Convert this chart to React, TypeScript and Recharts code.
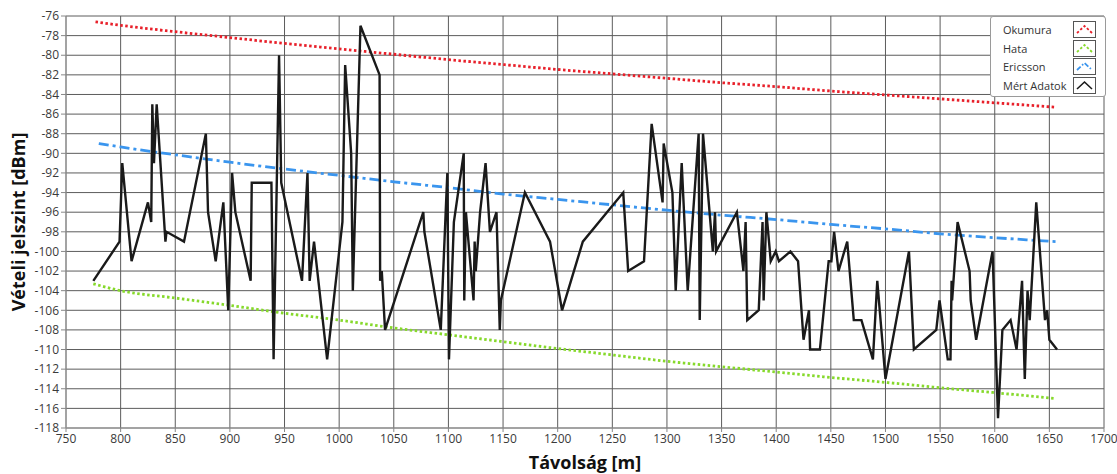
import React from 'react';
import { LineChart, Line, XAxis, YAxis, CartesianGrid, Legend } from 'recharts';

// Measured data (Mért Adatok)
const measuredDistance = [
  775, 799, 801.5, 810, 825, 828, 829, 830.5, 833, 841, 842, 858, 878, 880, 887, 894, 898.5, 902, 905, 919,
  920, 938, 940, 945, 947, 966, 971, 973, 977, 989, 1003, 1005.5, 1011, 1012.5, 1019.5, 1037, 1037.5, 1039, 1042, 1077,
  1078, 1093, 1099, 1100.5, 1105, 1114, 1114.5, 1116, 1123, 1124, 1125, 1129, 1134, 1138, 1144, 1147, 1148, 1170, 1193, 1204,
  1223, 1260, 1264.5, 1279, 1286, 1296, 1297, 1305, 1308, 1313.5, 1319, 1329, 1330, 1333, 1342, 1344, 1345, 1364, 1370, 1372,
  1373.5, 1384, 1387.5, 1388.5, 1391, 1395, 1399.5, 1402.5, 1413, 1420, 1425, 1430, 1431, 1440, 1448, 1450.5, 1453, 1457, 1465, 1471,
  1478, 1488.5, 1492.5, 1500, 1521.5, 1526, 1546.5, 1549.5, 1557, 1559.5, 1560.5, 1561, 1566, 1577, 1578, 1583, 1598, 1603, 1607, 1614.5,
  1620, 1625, 1627.5, 1630, 1632, 1638, 1646, 1648, 1650, 1657,
];
const measuredLevel = [
  -103, -99, -91, -101, -95, -97, -85, -91, -85, -99, -98, -99, -88, -96, -101, -95, -106, -92, -96, -103,
  -93, -93, -111, -80, -93, -103, -92, -103, -99, -111, -97, -81, -90, -104, -77, -82, -103, -102, -108, -96,
  -98, -108, -92, -111, -97, -90, -105, -96, -105, -99, -102, -96, -91, -98, -96, -108, -105, -94, -99, -106,
  -99, -94, -102, -101, -87, -95, -89, -94, -104, -91, -104, -88, -107, -88, -100, -96, -100, -96, -102, -97,
  -107, -106, -97, -105, -96, -101, -100, -101, -100, -101, -109, -106, -110, -110, -101, -101, -98, -102, -99, -107,
  -107, -111, -103, -113, -100, -110, -108, -105, -111, -111, -103, -105, -97, -102, -105, -109, -100, -117, -108, -107,
  -110, -103, -113, -104, -107, -95, -107, -106, -109, -110,
];

// Model curves (read at sample distances)
const okumuraDistance = [777, 800, 850, 900, 950, 1000, 1050, 1100, 1150, 1200, 1250, 1300, 1350, 1400, 1450, 1500, 1550, 1600, 1656];
const okumuraLevel = [-76.6, -76.95, -77.6, -78.2, -78.8, -79.35, -79.9, -80.45, -80.95, -81.45, -81.9, -82.35, -82.8, -83.2, -83.65, -84.05, -84.45, -84.85, -85.3];

const hataDistance = [775, 800, 850, 900, 950, 1000, 1050, 1100, 1150, 1200, 1250, 1300, 1350, 1400, 1450, 1500, 1550, 1600, 1656];
const hataLevel = [-103.3, -104.0, -104.75, -105.5, -106.3, -107.0, -107.8, -108.5, -109.2, -109.9, -110.55, -111.2, -111.75, -112.3, -112.85, -113.35, -113.9, -114.4, -115.0];

const ericssonDistance = [780, 800, 850, 900, 950, 1000, 1050, 1100, 1150, 1200, 1250, 1300, 1350, 1400, 1450, 1500, 1550, 1600, 1656];
const ericssonLevel = [-89.0, -89.35, -90.15, -90.9, -91.6, -92.25, -92.9, -93.5, -94.15, -94.7, -95.25, -95.8, -96.3, -96.75, -97.25, -97.7, -98.2, -98.6, -99.0];

// Axis ticks
const xTicks = [750, 800, 850, 900, 950, 1000, 1050, 1100, 1150, 1200, 1250, 1300, 1350, 1400, 1450, 1500, 1550, 1600, 1650, 1700];
const yTicks = [-118, -116, -114, -112, -110, -108, -106, -104, -102, -100, -98, -96, -94, -92, -90, -88, -86, -84, -82, -80, -78, -76];
const xMinorTicks = [
  750, 760, 770, 780, 790, 800, 810, 820, 830, 840, 850, 860, 870, 880, 890, 900, 910, 920, 930, 940, 950, 960, 970, 980, 990,
  1000, 1010, 1020, 1030, 1040, 1050, 1060, 1070, 1080, 1090, 1100, 1110, 1120, 1130, 1140, 1150, 1160, 1170, 1180, 1190,
  1200, 1210, 1220, 1230, 1240, 1250, 1260, 1270, 1280, 1290, 1300, 1310, 1320, 1330, 1340, 1350, 1360, 1370, 1380, 1390,
  1400, 1410, 1420, 1430, 1440, 1450, 1460, 1470, 1480, 1490, 1500, 1510, 1520, 1530, 1540, 1550, 1560, 1570, 1580, 1590,
  1600, 1610, 1620, 1630, 1640, 1650, 1660, 1670, 1680, 1690, 1700,
];
const yMinorTicks = [
  -118, -117.6, -117.2, -116.8, -116.4, -116, -115.6, -115.2, -114.8, -114.4, -114, -113.6, -113.2, -112.8, -112.4,
  -112, -111.6, -111.2, -110.8, -110.4, -110, -109.6, -109.2, -108.8, -108.4, -108, -107.6, -107.2, -106.8, -106.4,
  -106, -105.6, -105.2, -104.8, -104.4, -104, -103.6, -103.2, -102.8, -102.4, -102, -101.6, -101.2, -100.8, -100.4,
  -100, -99.6, -99.2, -98.8, -98.4, -98, -97.6, -97.2, -96.8, -96.4, -96, -95.6, -95.2, -94.8, -94.4,
  -94, -93.6, -93.2, -92.8, -92.4, -92, -91.6, -91.2, -90.8, -90.4, -90, -89.6, -89.2, -88.8, -88.4,
  -88, -87.6, -87.2, -86.8, -86.4, -86, -85.6, -85.2, -84.8, -84.4, -84, -83.6, -83.2, -82.8, -82.4,
  -82, -81.6, -81.2, -80.8, -80.4, -80, -79.6, -79.2, -78.8, -78.4, -78, -77.6, -77.2, -76.8, -76.4, -76,
];

const seriesNames = ['Okumura', 'Hata', 'Ericsson', 'Mért Adatok'];
const seriesColors = ['#e8202a', '#86d92b', '#3a95ee', '#1a1a1a'];

const toPoints = (xs: number[], ys: number[]) => xs.map((x, i) => ({ x, y: ys[i] }));
const measuredData = toPoints(measuredDistance, measuredLevel);
const okumuraData = toPoints(okumuraDistance, okumuraLevel);
const hataData = toPoints(hataDistance, hataLevel);
const ericssonData = toPoints(ericssonDistance, ericssonLevel);

const FONT = '"Open Sans", "Noto Sans", sans-serif';

const iconDash = ['2.5 2', '2.5 2', '5 2 1.5 2', ''];

const LegendBox = () => (
  <div
    style={{
      width: 116,
      height: 81,
      boxSizing: 'border-box',
      border: '1px solid #9a9a9a',
      borderRadius: 3,
      background: '#fff',
      padding: '3px 0 0 12px',
      fontFamily: FONT,
      fontSize: 11,
      color: '#333',
    }}
  >
    {seriesNames.map((name, i) => (
      <div key={name} style={{ display: 'flex', alignItems: 'center', height: 18.8 }}>
        <span style={{ width: 70, whiteSpace: 'nowrap' }}>{name}</span>
        <svg width={23} height={17} style={{ display: 'block' }}>
          <rect x={0.5} y={0.5} width={22} height={16} fill="#fff" stroke="#555" strokeWidth={1} />
          <path
            d="M4 12 L11.5 5 L19 12"
            fill="none"
            stroke={seriesColors[i]}
            strokeWidth={i === 3 ? 1.6 : 1.8}
            strokeDasharray={iconDash[i] || undefined}
          />
        </svg>
      </div>
    ))}
  </div>
);

export default function App() {
  return (
    <div style={{ position: 'absolute', left: 0, top: 0, width: 1117, height: 474, background: '#fff' }}>
      <LineChart width={1117} height={474} margin={{ top: 16, right: 13, bottom: 0, left: 0 }}>
        <CartesianGrid stroke="#5c5c5c" strokeWidth={1} xAxisId="main" yAxisId="main" />
        <XAxis
          xAxisId="minor"
          type="number"
          dataKey="x"
          domain={[750, 1700]}
          ticks={xMinorTicks}
          tick={false}
          tickSize={3}
          axisLine={false}
          tickLine={{ stroke: '#888' }}
          height={0}
          allowDataOverflow
        />
        <XAxis
          xAxisId="main"
          type="number"
          dataKey="x"
          domain={[750, 1700]}
          ticks={xTicks}
          interval={0}
          height={46}
          tickSize={4}
          tickMargin={2}
          axisLine={{ stroke: '#999' }}
          tickLine={{ stroke: '#888' }}
          tick={{ fontFamily: FONT, fontSize: 12, fill: '#3a3a3a' }}
          allowDataOverflow
          label={{
            value: 'Távolság [m]',
            position: 'center',
            dy: 12,
            style: { fontFamily: FONT, fontSize: 18, fontWeight: 700, fill: '#111' },
          }}
        />
        <YAxis
          yAxisId="minor"
          type="number"
          domain={[-118, -76]}
          ticks={yMinorTicks}
          tick={false}
          tickSize={3}
          axisLine={false}
          tickLine={{ stroke: '#888' }}
          width={0}
          allowDataOverflow
        />
        <YAxis
          yAxisId="main"
          type="number"
          domain={[-118, -76]}
          ticks={yTicks}
          interval={0}
          width={66}
          tickSize={5}
          tickMargin={2}
          axisLine={{ stroke: '#999' }}
          tickLine={{ stroke: '#888' }}
          tick={{ fontFamily: FONT, fontSize: 12, fill: '#3a3a3a' }}
          allowDataOverflow
          label={{
            value: 'Vételi jelszint [dBm]',
            angle: -90,
            position: 'center',
            dx: -14,
            style: { fontFamily: FONT, fontSize: 18, fontWeight: 700, fill: '#111', textAnchor: 'middle' },
          }}
        />
        <Legend
          layout="horizontal"
          verticalAlign="middle"
          align="center"
          wrapperStyle={{ left: 990, top: 16, width: 116, height: 81 }}
          content={() => <LegendBox />}
        />
        <Line
          xAxisId="main"
          yAxisId="main"
          name="Okumura"
          data={okumuraData}
          dataKey="y"
          type="monotone"
          stroke={seriesColors[0]}
          strokeWidth={2.8}
          strokeDasharray="2.5 2.5"
          dot={false}
          activeDot={false}
          isAnimationActive={false}
        />
        <Line
          xAxisId="main"
          yAxisId="main"
          name="Hata"
          data={hataData}
          dataKey="y"
          type="monotone"
          stroke={seriesColors[1]}
          strokeWidth={2.8}
          strokeDasharray="2.5 2.5"
          dot={false}
          activeDot={false}
          isAnimationActive={false}
        />
        <Line
          xAxisId="main"
          yAxisId="main"
          name="Ericsson"
          data={ericssonData}
          dataKey="y"
          type="monotone"
          stroke={seriesColors[2]}
          strokeWidth={2.8}
          strokeDasharray="10 4 3 4"
          dot={false}
          activeDot={false}
          isAnimationActive={false}
        />
        <Line
          xAxisId="main"
          yAxisId="main"
          name="Mért Adatok"
          data={measuredData}
          dataKey="y"
          type="linear"
          stroke={seriesColors[3]}
          strokeWidth={2.4}
          strokeLinejoin="miter"
          dot={false}
          activeDot={false}
          isAnimationActive={false}
        />
      </LineChart>
    </div>
  );
}
